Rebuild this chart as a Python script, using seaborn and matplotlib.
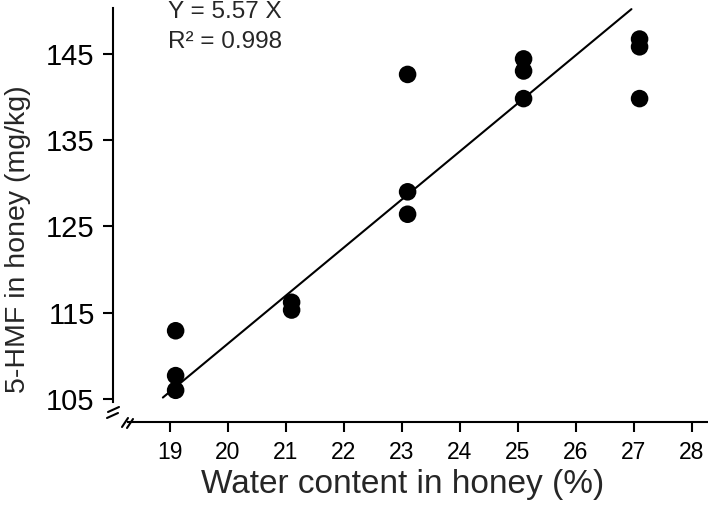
import numpy as np
import matplotlib.pyplot as plt
import seaborn as sns
import pandas as pd
from matplotlib.lines import Line2D

# measured data: water content (%) vs 5-HMF (mg/kg)
water = [19.1, 19.1, 19.1, 21.1, 21.1, 23.1, 23.1, 23.1,
         25.1, 25.1, 25.1, 27.1, 27.1, 27.1]
hmf = [112.9, 107.7, 106.0, 116.2, 115.3, 142.6, 129.0, 126.4,
       144.4, 143.0, 139.8, 146.7, 145.8, 139.8]

slope = 5.57
fit_x = [18.88, 26.96]
x_ticks = [19, 20, 21, 22, 23, 24, 25, 26, 27, 28]
y_ticks = [105, 115, 125, 135, 145]


if __name__ == '__main__':

    sns.set_style('ticks')
    plt.rcParams['font.family'] = ['Liberation Sans', 'DejaVu Sans']

    df = pd.DataFrame({'water': water, 'hmf': hmf})
    fit = pd.DataFrame({'x': fit_x, 'y': [slope * v for v in fit_x]})

    fig = plt.figure(figsize=(7.08, 5.05), dpi=100)
    ax = fig.add_axes([0.1596, 0.1644, 0.8404, 0.8198])

    sns.lineplot(data=fit, x='x', y='y', color='black', linewidth=1.5, ax=ax)
    sns.scatterplot(data=df, x='water', y='hmf', color='black', s=160,
                    edgecolor='none', ax=ax, zorder=3)

    ax.set_xlim(18.02, 28.28)
    ax.set_ylim(102.33, 150.3)
    ax.set_xticks(x_ticks)
    ax.set_yticks(y_ticks)
    ax.tick_params(axis='both', length=7.2, width=1.5, colors='black')
    ax.tick_params(axis='x', labelsize=16.5, pad=6.5)
    ax.tick_params(axis='y', labelsize=21, pad=6)

    for side in ['top', 'right']:
        ax.spines[side].set_visible(False)
    for side in ['left', 'bottom']:
        ax.spines[side].set_linewidth(1.5)
        ax.spines[side].set_color('black')
    ax.spines['left'].set_bounds(104.6, 150.3)
    ax.spines['bottom'].set_bounds(18.28, 28.28)

    ax.set_xlabel('Water content in honey (%)', fontsize=24)
    ax.set_ylabel('5-HMF in honey (mg/kg)', fontsize=20.5)
    ax.xaxis.set_label_coords(0.487, -0.114)
    ax.yaxis.set_label_coords(-0.1385, 0.442)

    ax.text(0.0924, 0.9758, 'Y = 5.57 X', transform=ax.transAxes, fontsize=17.5,
            va='baseline', ha='left')
    ax.text(0.0924, 0.9034, 'R² = 0.998', transform=ax.transAxes, fontsize=17.5,
            va='baseline', ha='left')

    # axis break marks (pixel positions -> figure fractions)
    W, H = 708, 505
    breaks = [((107, 418), (118, 413)), ((108, 412), (119, 407)),
              ((122, 427), (128, 418)), ((127, 428), (133, 419))]
    for (x0, y0), (x1, y1) in breaks:
        fig.add_artist(Line2D([x0 / W, x1 / W], [1 - y0 / H, 1 - y1 / H],
                              color='black', linewidth=1.5,
                              transform=fig.transFigure))

    plt.savefig('out.png', dpi=100)
